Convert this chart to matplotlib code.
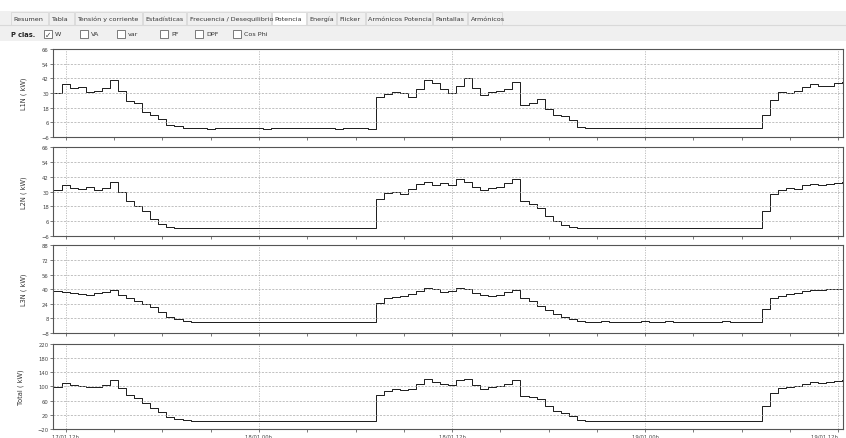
# -*- coding:utf-8 -*-
# Potencia activa por fase (kW) - recreación de la pantalla del analizador

import numpy as np
import pandas as pd
import matplotlib
matplotlib.use('Agg')
import matplotlib.pyplot as plt
import matplotlib.dates as mdates
from matplotlib.patches import Rectangle

# ---- datos (cada 30 min) ----
t = pd.date_range('2018-01-17 11:15', periods=99, freq='30min')

L1 = [30, 37, 34, 35, 31, 32, 34, 41, 32, 23, 22, 14, 12, 9, 3.5, 2.5, 1.5,
      1.0, 1.3, 0.8, 1.2, 1.0, 1.4, 0.9, 1.1, 1.3, 0.8, 1.2, 1.0, 1.4, 1.1, 0.9, 1.2, 1.0, 1.3, 0.8, 1.1, 1.2, 0.9,
      0.3,
      27, 29, 31, 30, 27, 33, 41, 38, 33, 30, 36, 42, 34, 28, 31, 32, 33, 39, 20, 22, 25, 17, 12, 11, 8, 2,
      1.3, 1.0, 1.4, 1.2, 0.9, 1.3, 1.1, 1.5, 1.0, 1.2, 1.4, 0.9, 1.3, 1.1, 1.2, 1.0, 1.4, 1.2, 0.9, 1.3, 1.1, 1.5,
      12, 24, 31, 30, 32, 35, 37, 36, 36, 38, 39]

L2 = [31, 35, 33, 32, 34, 31, 33, 38, 30, 22, 18, 14, 8, 4, 1, 0.5, 0.3,
      0.3, 0.2, 0.4, 0.2, 0.3, 0.2, 0.3, 0.4, 0.2, 0.3, 0.2, 0.3, 0.4, 0.2, 0.3, 0.2, 0.3, 0.2, 0.4, 0.3, 0.2, 0.3,
      0.2,
      24, 29, 30, 28, 32, 36, 38, 35, 37, 35, 40, 38, 34, 31, 33, 34, 37, 40, 22, 20, 17, 10, 6, 3, 1, 0.5,
      0.3, 0.2, 0.4, 0.3, 0.2, 0.3, 0.4, 0.2, 0.3, 0.3, 0.2, 0.4, 0.3, 0.2, 0.3, 0.2, 0.4, 0.3, 0.2, 0.3, 0.3, 0.2,
      14, 28, 31, 33, 32, 35, 36, 35, 36, 37, 38]

L3 = [38, 37, 36, 35, 34, 36, 37, 39, 34, 30, 27, 24, 20, 15, 10, 7, 5,
      4.2, 3.8, 4.5, 4.0, 3.6, 4.3, 4.1, 3.7, 4.4, 4.0, 3.8, 4.2, 4.5, 3.9, 4.1, 3.7, 4.3, 4.0, 3.8, 4.4, 4.1, 3.9,
      4.0,
      25, 30, 31, 33, 35, 38, 41, 40, 37, 38, 41, 40, 36, 34, 33, 34, 37, 39, 30, 27, 22, 17, 13, 10, 7, 5,
      4.5, 4.2, 4.8, 4.4, 4.1, 4.6, 4.3, 4.9, 4.4, 4.2, 4.7, 4.3, 4.5, 4.1, 4.6, 4.4, 4.2, 4.8, 4.3, 4.5, 4.1, 4.6,
      18, 30, 33, 35, 36, 38, 39, 39, 40, 40, 40]

TOT = [99, 109, 103, 102, 99, 99, 104, 118, 96, 75, 67, 52, 40, 28, 15, 8, 4,
       3.0, 2.6, 3.4, 2.8, 2.4, 3.3, 2.9, 2.7, 3.4, 2.6, 2.8, 3.1, 3.6, 2.7, 2.9, 2.6, 3.2, 3.0, 2.5, 3.3, 3.0, 2.6,
       2.2,
       76, 88, 92, 91, 94, 107, 120, 113, 107, 103, 117, 120, 104, 93, 97, 100, 107, 118, 72, 69, 64, 44, 31, 24, 16, 6,
       3.1, 2.7, 3.4, 3.0, 2.6, 3.2, 2.9, 3.5, 2.8, 2.9, 3.3, 2.7, 3.1, 2.6, 3.2, 2.8, 3.0, 3.3, 2.6, 3.1, 2.7, 3.3,
       44, 82, 95, 98, 100, 108, 112, 110, 112, 115, 117]

labels = ['L1N ( kW)', 'L2N ( kW)', 'L3N ( kW)', 'Total ( kW)']
limits = [(-6, 66), (-6, 66), (-8, 88), (-20, 220)]
yticks = [[-6, 6, 18, 30, 42, 54, 66], [-6, 6, 18, 30, 42, 54, 66],
          [-8, 8, 24, 40, 56, 72, 88], [-20, 20, 60, 100, 140, 180, 220]]

tabs = ['Resumen', 'Tabla', 'Tensión y corriente', 'Estadísticas', 'Frecuencia / Desequilibrio',
        'Potencia', 'Energía', 'Flicker', 'Armónicos Potencia', 'Pantallas', 'Armónicos']
tab_x = [11, 49, 75, 143, 187, 272, 307, 337, 366, 433, 468, 503]
checks = ['W', 'VA', 'var', 'PF', 'DPF', 'Cos Phi']
check_x = [44, 80, 117, 160, 195, 233]

W, H = 846, 439
fig = plt.figure(figsize=(W / 100, H / 100), dpi=100)
fig.patch.set_facecolor('white')

# ---- barra de pestañas / opciones ----
ui = fig.add_axes([0, 0, 1, 1], zorder=-1)
ui.set_xlim(0, W)
ui.set_ylim(H, 0)
ui.axis('off')
ui.add_patch(Rectangle((0, 12), W, 14, fc='#f0f0f0', ec='none'))
ui.plot([0, W], [25.5, 25.5], color='#d9d9d9', lw=0.8)
ui.add_patch(Rectangle((0, 27), W, 15, fc='#f0f0f0', ec='none'))
for i, name in enumerate(tabs):
    x0, x1 = tab_x[i], tab_x[i + 1]
    fc = 'white' if name == 'Potencia' else '#f0f0f0'
    ui.add_patch(Rectangle((x0, 13), x1 - x0 - 1, 12.5, fc=fc, ec='#d9d9d9', lw=0.6))
    ui.text(x0 + 2.5, 19.5, name, fontsize=4.6, va='center', ha='left', color='#333333')
ui.text(11, 35, 'P clas.', fontsize=4.8, fontweight='bold', va='center', ha='left', color='#222222')
for i, name in enumerate(checks):
    x0 = check_x[i]
    ui.add_patch(Rectangle((x0, 31), 8, 8, fc='white', ec='#666666', lw=0.6))
    if name == 'W':
        ui.text(x0 + 4, 35, '✓', fontsize=5.5, va='center', ha='center', color='#444444')
    ui.text(x0 + 11, 35, name, fontsize=4.6, va='center', ha='left', color='#333333')

# ---- gráficos ----
pos = [[0.0626, 0.686, 0.934, 0.200],
       [0.0626, 0.460, 0.934, 0.203],
       [0.0626, 0.239, 0.934, 0.200],
       [0.0626, 0.0205, 0.934, 0.194]]
series = [L1, L2, L3, TOT]
x_lo = pd.Timestamp('2018-01-17 11:12')
x_hi = pd.Timestamp('2018-01-19 12:18')

for k in range(4):
    ax = fig.add_axes(pos[k])
    ax.step(t, series[k], where='post', color='#1a1a1a', lw=0.7)
    ax.set_xlim(x_lo, x_hi)
    ax.set_ylim(*limits[k])
    ax.set_yticks(yticks[k])
    ax.tick_params(axis='y', labelsize=3.8, length=2, width=0.5, pad=1, colors='#444444')
    ax.tick_params(axis='x', which='both', labelsize=3.8, length=2, width=0.5, pad=1, colors='#444444')
    ax.xaxis.set_major_locator(mdates.HourLocator(byhour=[0, 12]))
    ax.xaxis.set_minor_locator(mdates.HourLocator(byhour=[3, 6, 9, 15, 18, 21]))
    ax.xaxis.set_major_formatter(mdates.DateFormatter('%d/%m %Hh'))
    if k < 3:
        ax.tick_params(axis='x', labelbottom=False)
    for yv in yticks[k][1:-1]:
        ax.axhline(yv, color='#a8a8a8', lw=0.5, ls=(0, (3, 2)))
    ax.grid(axis='x', which='major', color='#b8b8b8', lw=0.6, ls=(0, (1.5, 1.5)))
    for s in ax.spines.values():
        s.set_color('#555555')
        s.set_linewidth(0.8)
    ax.set_ylabel(labels[k], fontsize=4.8, color='#333333', labelpad=10)
    if k == 3:
        fig.canvas.draw()
        ax.get_xticklabels()[-1].set_horizontalalignment('right')

plt.savefig('out.png', dpi=100)
